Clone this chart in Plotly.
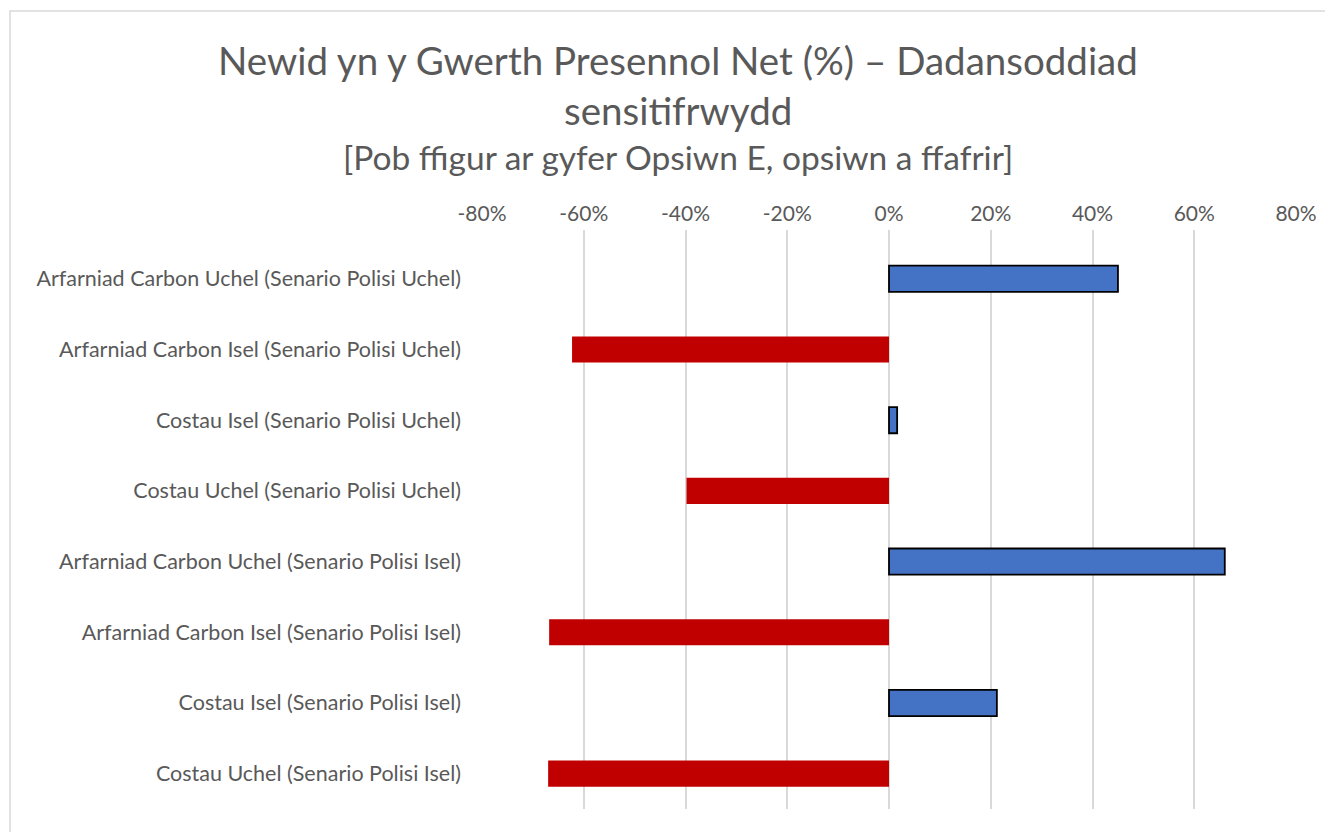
import plotly.graph_objects as go

categories = [
    "Arfarniad Carbon Uchel (Senario Polisi Uchel)",
    "Arfarniad Carbon Isel (Senario Polisi Uchel)",
    "Costau Isel (Senario Polisi Uchel)",
    "Costau Uchel (Senario Polisi Uchel)",
    "Arfarniad Carbon Uchel (Senario Polisi Isel)",
    "Arfarniad Carbon Isel (Senario Polisi Isel)",
    "Costau Isel (Senario Polisi Isel)",
    "Costau Uchel (Senario Polisi Isel)",
]
values = [45.0, -62.3, 1.6, -39.8, 66.0, -66.8, 21.2, -67.0]
tick_vals = [-80, -60, -40, -20, 0, 20, 40, 60, 80]
tick_text = ["-80%", "-60%", "-40%", "-20%", "0%", "20%", "40%", "60%", "80%"]

BLUE = "#4472C4"
RED = "#C00000"
colors = [BLUE if v >= 0 else RED for v in values]
line_w = [1.8 if v >= 0 else 0 for v in values]

# page body has an 8px margin, so work in figure pixels = screen pixels - 8
OFF = 8
W, H = 1333 - OFF, 832 - OFF
L, T = 482 - OFF, 230 - OFF
R = W - (1296 - OFF)
B = H - (809 - OFF)
PW, PH = W - L - R, H - T - B


def px(x):
    return (x - OFF - L) / PW


def py(y):
    return (H - B - (y - OFF)) / PH


fig = go.Figure(go.Bar(
    x=values, y=categories, orientation="h",
    marker=dict(color=colors, line=dict(color="#000000", width=line_w)),
    width=0.37,
    hoverinfo="x+y",
))

font = "Lato, 'Open Sans', sans-serif"
grey = "#595959"

fig.update_layout(
    width=W, height=H,
    margin=dict(l=L, r=R, t=T, b=B),
    paper_bgcolor="white", plot_bgcolor="white",
    showlegend=False,
    font=dict(family=font, color=grey),
    xaxis=dict(
        side="top", range=[-80, 80], tickvals=tick_vals, ticktext=tick_text,
        showgrid=True, gridcolor="#D9D9D9", gridwidth=1.5,
        zeroline=True, zerolinecolor="#D9D9D9", zerolinewidth=1.5,
        showline=False, ticks="", tickfont=dict(size=21, color=grey, family=font),
        ticklabelstandoff=4,
        fixedrange=True,
    ),
    yaxis=dict(
        categoryorder="array", categoryarray=categories,
        range=[7.5, -0.69], showgrid=False, zeroline=False, showline=False,
        ticks="", ticklabelstandoff=20,
        tickfont=dict(size=21.5, color=grey, family=font),
        fixedrange=True,
    ),
    annotations=[
        dict(text="Newid yn y Gwerth Presennol Net (%) – Dadansoddiad", x=px(678), y=py(60),
             xref="paper", yref="paper", xanchor="center", yanchor="middle",
             showarrow=False, font=dict(size=38.5, color=grey, family=font)),
        dict(text="sensitifrwydd", x=px(678), y=py(110),
             xref="paper", yref="paper", xanchor="center", yanchor="middle",
             showarrow=False, font=dict(size=38.5, color=grey, family=font)),
        dict(text="[Pob ffigur ar gyfer Opsiwn E, opsiwn a ffafrir]", x=px(678), y=py(157),
             xref="paper", yref="paper", xanchor="center", yanchor="middle",
             showarrow=False, font=dict(size=33.5, color=grey, family=font)),
    ],
    shapes=[
        dict(type="rect", xref="paper", yref="paper",
             x0=px(10), x1=px(1360), y0=py(860), y1=py(11),
             line=dict(color="#D9D9D9", width=1.5), fillcolor="rgba(0,0,0,0)", layer="below"),
    ],
)

fig.write_html("out.html")
